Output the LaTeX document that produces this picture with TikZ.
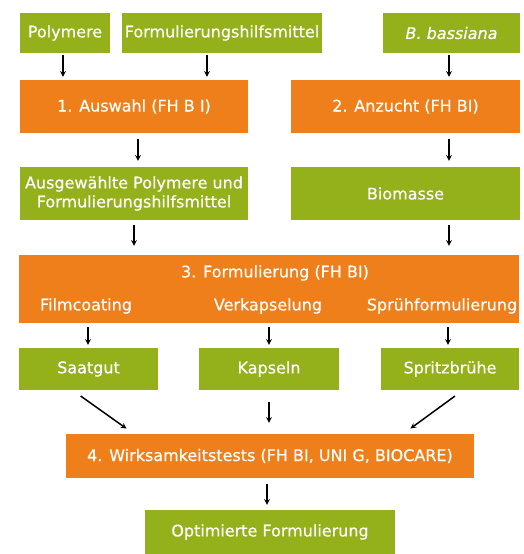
\documentclass[tikz,border=0pt]{standalone}
\usepackage{fontspec}
\setmainfont{DejaVu Sans}
\newfontfamily\boxfont{DejaVu Sans}[FakeBold=0.4]
\usetikzlibrary{calc}
\definecolor{gruen}{RGB}{148,177,28}
\definecolor{orange}{RGB}{238,127,27}

\begin{document}
\begin{tikzpicture}[x=1pt,y=-1pt,
  gbox/.style={fill=gruen,text=white,inner sep=0pt,align=center,font=\boxfont\fontsize{16}{19}\selectfont},
  obox/.style={fill=orange,text=white,inner sep=0pt,align=center,font=\boxfont\fontsize{16}{19}\selectfont},
  otext/.style={text=white,inner sep=0pt,font=\boxfont\fontsize{16}{19}\selectfont},
  arr/.style={->,>=stealth,line width=1.5pt,shorten <=2pt,shorten >=3pt}]
\useasboundingbox (0,0) rectangle (524,554);

\node[gbox,minimum width=90pt,minimum height=40pt] (poly) at (65,33) {Polymere};
\node[gbox,minimum width=200pt,minimum height=40pt] (fhm) at (222,33) {Formulierungshilfsmittel};
\node[gbox,minimum width=137pt,minimum height=40pt] (bb) at (451.5,33) {\itshape B. bassiana};

\node[obox,minimum width=228pt,minimum height=53pt] (aus) at (134,106.5) {1. Auswahl (FH B I)};
\node[obox,minimum width=229pt,minimum height=53pt] (anz) at (405.5,106.5) {2. Anzucht (FH BI)};

\node[gbox,minimum width=228pt,minimum height=53pt] (ausg) at (134,193.5) {Ausgewählte Polymere und\\Formulierungshilfsmittel};
\node[gbox,minimum width=229pt,minimum height=53pt] (bio) at (405.5,193.5) {Biomasse};

\node[obox,minimum width=500pt,minimum height=68pt] (form) at (269,289) {};
\node[otext] (formt) at (275,273) {3. Formulierung (FH BI)};
\node[otext] (film) at (86,306) {Filmcoating};
\node[otext] (verk) at (268,306) {Verkapselung};
\node[otext] (spruh) at (442,306) {Sprühformulierung};

\node[gbox,minimum width=139pt,minimum height=42pt] (saat) at (88.5,369) {Saatgut};
\node[gbox,minimum width=140pt,minimum height=42pt] (kap) at (269,369) {Kapseln};
\node[gbox,minimum width=138pt,minimum height=42pt] (spr) at (450,369) {Spritzbrühe};

\node[obox,minimum width=408pt,minimum height=44pt] (wirk) at (270,456) {4. Wirksamkeitstests (FH BI, UNI G, BIOCARE)};
\node[gbox,minimum width=250pt,minimum height=44pt] (opt) at (270,532) {Optimierte Formulierung};

\draw[arr] ([xshift=-2pt]poly.south) -- ([xshift=-2pt]poly.south |- aus.north);
\draw[arr] ([xshift=-15pt]fhm.south) -- ([xshift=-15pt]fhm.south |- aus.north);
\draw[arr] ([xshift=-2.5pt]bb.south) -- ([xshift=-2.5pt]bb.south |- anz.north);
\draw[arr,shorten <=6pt,shorten >=6pt] ([xshift=4pt]aus.south) -- ([xshift=4pt]ausg.north);
\draw[arr,shorten <=6pt,shorten >=6pt] ([xshift=43.5pt]anz.south) -- ([xshift=43.5pt]bio.north);
\draw[arr,shorten <=5pt,shorten >=9pt] (ausg.south) -- (ausg.south |- form.north);
\draw[arr,shorten <=5pt,shorten >=9pt] ([xshift=43.5pt]bio.south) -- ([xshift=43.5pt]bio.south |- form.north);
\draw[arr,shorten <=4pt] ([xshift=-0.5pt]form.south -| saat) -- ([xshift=-0.5pt]saat.north);
\draw[arr,shorten <=4pt] (form.south -| kap) -- (kap.north);
\draw[arr,shorten <=4pt] ([xshift=-2pt]form.south -| spr) -- ([xshift=-2pt]spr.north);
\draw[arr,shorten <=10pt,shorten >=9pt] ([xshift=-16pt]saat.south) -- ([xshift=68pt]wirk.north west);
\draw[arr,shorten <=10pt,shorten >=9pt] ([xshift=13pt]spr.south) -- ([xshift=-71pt]wirk.north east);
\draw[arr,shorten <=12pt,shorten >=11pt] (kap.south) -- (kap.south |- wirk.north);
\draw[arr,shorten <=6pt,shorten >=5pt] ([xshift=-3pt]wirk.south) -- ([xshift=-3pt]opt.north);
\end{tikzpicture}
\end{document}
